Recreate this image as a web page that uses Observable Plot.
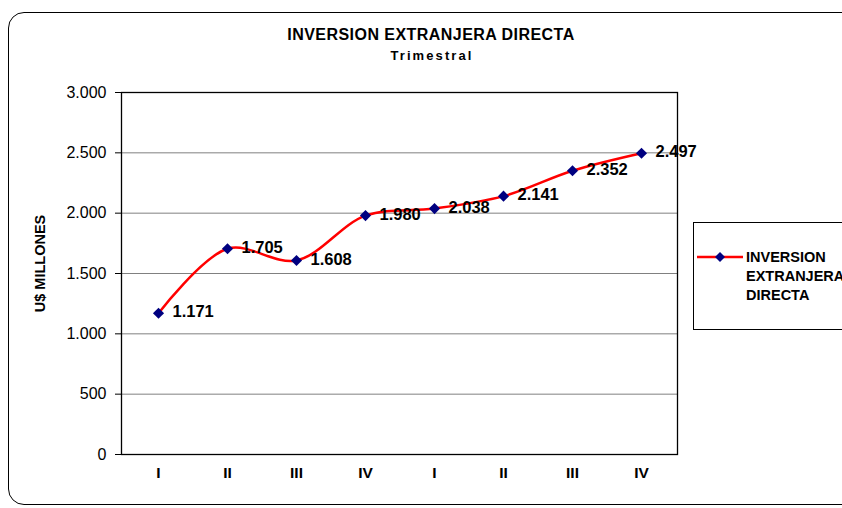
<!DOCTYPE html>
<html>
<head>
<meta charset="utf-8">
<script src="https://cdn.jsdelivr.net/npm/d3@7"></script>
<script src="https://cdn.jsdelivr.net/npm/@observablehq/plot@0.6"></script>
<style>
  html, body { margin: 0; padding: 0; background: #fff; }
  body { width: 842px; height: 508px; overflow: hidden; position: relative; font-family: "Liberation Sans", Arial, sans-serif; }
  #border { position: absolute; left: 8px; top: 12px; width: 860px; height: 493px; border: 1.3px solid #000; border-radius: 16px; box-sizing: border-box; }
  #title { position: absolute; left: 0; top: 26px; width: 862px; text-align: center; font-weight: bold; font-size: 16px; letter-spacing: 0.45px; color: #000; }
  #subtitle { position: absolute; left: 0; top: 48px; width: 864px; text-align: center; font-weight: bold; font-size: 13px; letter-spacing: 2.1px; color: #000; }
  #chart { position: absolute; left: 0; top: 0; }
  #legend { position: absolute; left: 693px; top: 222px; width: 170px; height: 108px; border: 1px solid #000; box-sizing: border-box; background: #fff; }
  #legend svg { position: absolute; left: 3px; top: 28px; }
  #legend .lbl { position: absolute; left: 52px; top: 25px; font-weight: bold; font-size: 14.5px; line-height: 19px; color: #000; }
</style>
</head>
<body>
<div id="border"></div>
<div id="chart"></div>
<div id="title">INVERSION EXTRANJERA DIRECTA</div>
<div id="subtitle">Trimestral</div>
<div id="legend">
  <svg width="50" height="12"><line x1="0" y1="6" x2="46" y2="6" stroke="#ff0000" stroke-width="2.5"/><path d="M23,1 L28,6 L23,11 L18,6 Z" fill="#000080"/></svg>
  <div class="lbl">INVERSION<br>EXTRANJERA<br>DIRECTA</div>
</div>
<script>
const seriesName = "INVERSION EXTRANJERA DIRECTA";
const yAxisLabel = "U$ MILLONES";
const periods = ["1-I", "1-II", "1-III", "1-IV", "2-I", "2-II", "2-III", "2-IV"];
const tickLabels = ["I", "II", "III", "IV", "I", "II", "III", "IV"];
const values = [1171, 1705, 1608, 1980, 2038, 2141, 2352, 2497];
const yTicks = [0, 500, 1000, 1500, 2000, 2500, 3000];

const data = periods.map((p, i) => ({period: p, label: tickLabels[i], value: values[i]}));
const fmt = v => d3.format(",")(v).replace(/,/g, ".");

const chart = Plot.plot({
  width: 842,
  height: 508,
  marginLeft: 121,
  marginRight: 165,
  marginTop: 92,
  marginBottom: 54,
  style: {fontFamily: "Liberation Sans, Arial, sans-serif", background: "transparent", color: "#000"},
  x: {type: "point", domain: periods, padding: 0.5, label: null},
  y: {domain: [0, 3000], label: null},
  marks: [
    Plot.gridY(yTicks.slice(1, -1), {stroke: "#808080", strokeOpacity: 1, strokeWidth: 1}),
    Plot.frame({stroke: "#000", strokeWidth: 1.3}),
    Plot.axisY(yTicks, {tickSize: 6, tickPadding: 9, tickFormat: fmt, fontSize: 16, stroke: "#000"}),
    Plot.axisX({tickSize: 0, tickPadding: 12, tickFormat: d => tickLabels[periods.indexOf(d)], fontSize: 15.5, fontWeight: "bold"}),
    Plot.text([yAxisLabel], {frameAnchor: "left", textAnchor: "middle", rotate: -90, dx: -81, dy: -10, fontWeight: "bold", fontSize: 14.5}),
    Plot.line(data, {x: "period", y: "value", stroke: "#ff0000", strokeWidth: 2.5, curve: "catmull-rom"}),
    Plot.dot(data, {x: "period", y: "value", symbol: "diamond2", r: 5, fill: "#000080", stroke: "none"}),
    Plot.text(data, {x: "period", y: "value", text: d => fmt(d.value), textAnchor: "start", dx: 14, dy: -1, fontWeight: "bold", fontSize: 16.5, fill: "#000"})
  ]
});
document.getElementById("chart").appendChild(chart);
</script>
</body>
</html>
